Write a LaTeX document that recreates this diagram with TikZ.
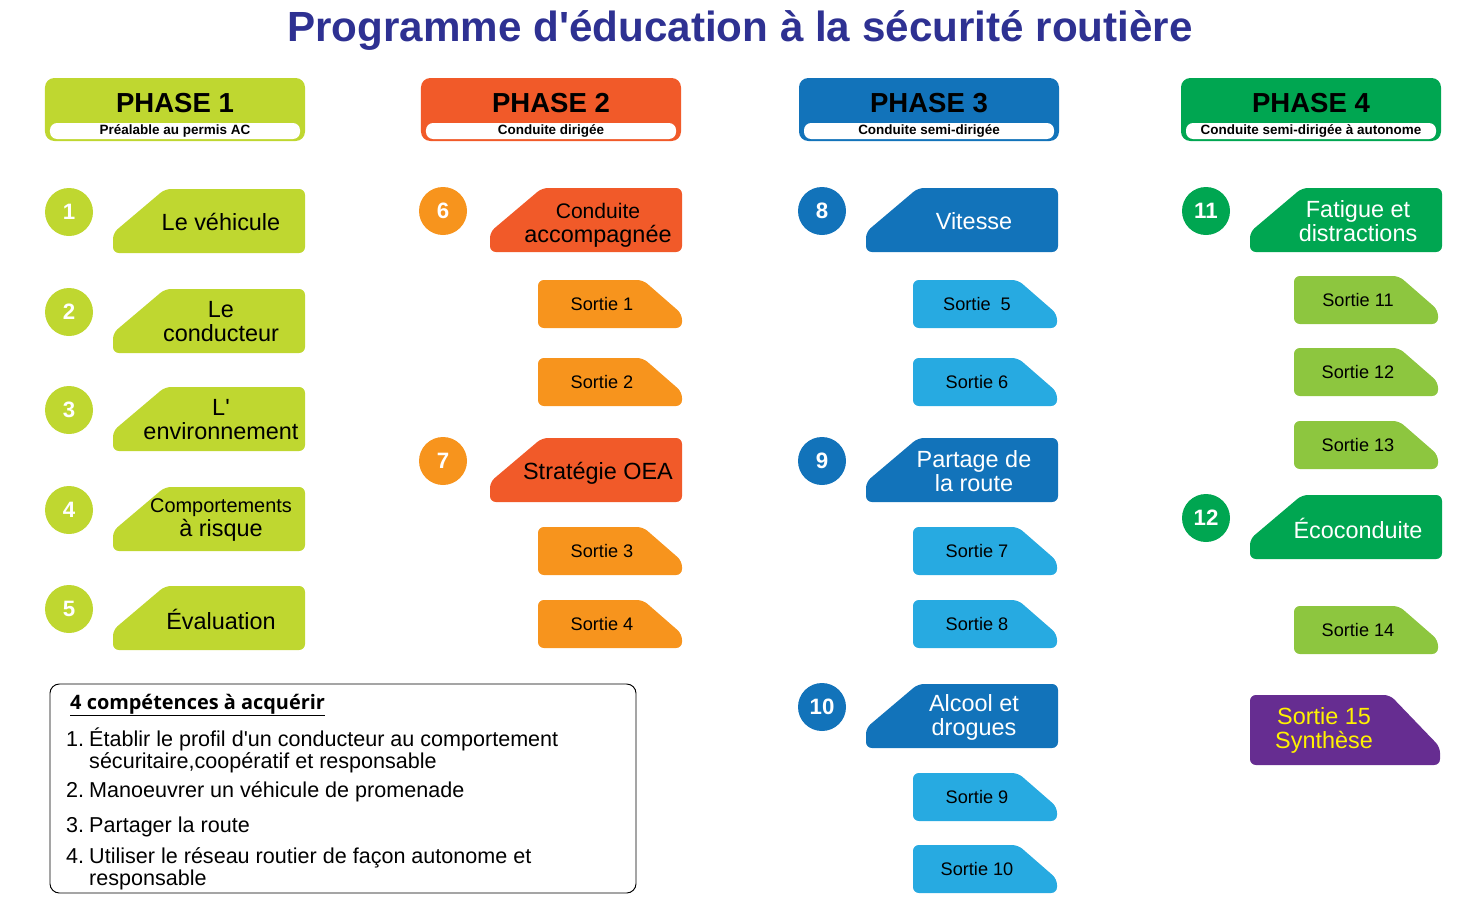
\documentclass[tikz,border=0pt]{standalone}
\usepackage{fontspec}
\setmainfont{Liberation Sans}
\newfontfamily\boxfont{Open Sans}
\usetikzlibrary{positioning}
\definecolor{ttlblue}{HTML}{2E3192}
\definecolor{limeG}{HTML}{BFD730}
\definecolor{orngR}{HTML}{F15A29}
\definecolor{orngL}{HTML}{F7941D}
\definecolor{blueD}{HTML}{1273BA}
\definecolor{blueL}{HTML}{27AAE1}
\definecolor{greenD}{HTML}{00A651}
\definecolor{greenL}{HTML}{8DC63F}
\definecolor{purp}{HTML}{662D91}
\definecolor{yell}{HTML}{FFF200}
\tikzset{
  every node/.style={inner sep=0pt},
  phbox/.style ={rounded corners=8pt, minimum width=7.8cm, minimum height=1.89cm},
  phttl/.style ={font=\fontsize{23.5}{25}\selectfont\bfseries},
  phsub/.style ={fill=white, rounded corners=6pt, minimum width=7.5cm, minimum height=0.48cm,
                 font=\fontsize{11.5}{13}\selectfont\bfseries},
  numc/.style  ={circle, minimum size=1.44cm, text=white, font=\fontsize{19}{21}\selectfont\bfseries},
  modtxt/.style={align=center, font=\fontsize{20}{20.5}\selectfont},
  srttxt/.style={font=\fontsize{15.5}{17}\selectfont},
  itm/.style   ={anchor=base west, font=\fontsize{18.4}{20}\selectfont},
}
% module tag: [node options], name, x, y, fill, text colour, text
\newcommand{\modtag}[7][]{%
  \fill[#5, rounded corners=5pt] (#3,#4+44) -- (#3+52,#4) -- (#3+192,#4) -- (#3+192,#4+64)
    -- (#3,#4+64) -- cycle;
  \node[modtxt, text=#6, #1] (#2) at (#3+108,#4+33) {#7};
}
% outing tag: name, x, y, fill, text
\newcommand{\sortie}[5]{%
  \fill[#4, rounded corners=5pt] (#2,#3) -- (#2+105,#3) -- (#2+144,#3+34) -- (#2+144,#3+48)
    -- (#2,#3+48) -- cycle;
  \node[srttxt] (#1) at (#2+64,#3+24) {#5};
}

\begin{document}
\begin{tikzpicture}[x=0.03cm, y=-0.03cm]
\useasboundingbox (0,0) rectangle (1480,917);

% ---------------- title -------------------------------------------------------
\node[text=ttlblue, font=\fontsize{36}{38}\selectfont\bfseries] (title) at (740,30)
  {Programme d\textquotesingle éducation à la sécurité routière};

% ---------------- phase headers -----------------------------------------------
\foreach \x/\col/\k/\sub in {175/limeG/1/{Préalable au permis AC},
    551/orngR/2/{Conduite dirigée}, 929/blueD/3/{Conduite semi-dirigée},
    1311/greenD/4/{Conduite semi-dirigée à autonome}}{
  \node[phbox, fill=\col] (ph\k) at (\x,109.5) {};
  \node[phttl] (pht\k) at (\x,103) {PHASE \k};
  \node[phsub] (phs\k) at (\x,131) {\sub};
}

% ---------------- phase 1 -----------------------------------------------------
\foreach \k/\yy/\txt in {1/189/{Le véhicule}, 2/289/{Le\\conducteur},
    3/387/{L\textquotesingle\\environnement},
    4/487/{\fontsize{17}{19}\selectfont Comportements\\à risque}, 5/586/{Évaluation}}{
  \node[numc, fill=limeG] (n\k) at (69,\yy+23) {\k};
  \modtag{m\k}{113}{\yy}{limeG}{black}{\txt}
}

% ---------------- phase 2 -----------------------------------------------------
\node[numc, fill=orngL] (n6) at (443,211) {6};
\modtag[yshift=-4pt]{m6}{490}{188}{orngR}{black}
  {\fontsize{18}{18.8}\selectfont Conduite\\accompagnée}
\node[numc, fill=orngL] (n7) at (443,461) {7};
\modtag[yshift=-2pt]{m7}{490}{438}{orngR}{black}{Stratégie OEA}
\foreach \k/\yy in {1/280, 2/358, 3/527, 4/600}{
  \sortie{s\k}{538}{\yy}{orngL}{Sortie \k}
}

% ---------------- phase 3 -----------------------------------------------------
\foreach \k/\yy/\txt in {8/188/{Vitesse}, 9/438/{Partage de\\la route},
    10/684/{Alcool et\\drogues}}{
  \node[numc, fill=blueD] (n\k) at (822,\yy+23) {\k};
  \modtag{m\k}{866}{\yy}{blueD}{white}{\txt}
}
\foreach \k/\yy/\txt in {5/280/{Sortie\ \ 5}, 6/358/{Sortie 6}, 7/527/{Sortie 7},
    8/600/{Sortie 8}, 9/773/{Sortie 9}, 10/845/{Sortie 10}}{
  \sortie{s\k}{913}{\yy}{blueL}{\txt}
}

% ---------------- phase 4 -----------------------------------------------------
\foreach \k/\yy/\txt in {11/188/{Fatigue et\\distractions}, 12/495/{Écoconduite}}{
  \node[numc, fill=greenD] (n\k) at (1206,\yy+23) {\k};
  \modtag{m\k}{1250}{\yy}{greenD}{white}{\txt}
}
\foreach \k/\yy in {11/276, 12/348, 13/421, 14/606}{
  \sortie{s\k}{1294}{\yy}{greenL}{Sortie \k}
}
\fill[purp, rounded corners=5pt] (1250,695) -- (1390,695) -- (1440,747) -- (1440,765)
  -- (1250,765) -- cycle;
\node[modtxt, text=yell] (s15) at (1324,730) {Sortie 15\\Synthèse};

% ---------------- competences box ---------------------------------------------
\node[draw, line width=0.8pt, rounded corners=8pt, minimum width=17.58cm,
  minimum height=6.27cm] (cbox) at (343,788.5) {};
\node[anchor=base west, font=\boxfont\fontsize{17}{19}\selectfont\bfseries] (cttl) at (70,709)
  {4 compétences à acquérir};
\draw[line width=0.8pt] ([yshift=-1.5pt]cttl.south west) -- ([yshift=-1.5pt]cttl.south east);
\foreach \k/\yy in {1/746, 2/797, 3/832, 4/863}{
  \node[itm] (cn\k) at (66,\yy) {\k.};
}
\foreach \yy/\txt [count=\k] in {746/{Établir le profil d\textquotesingle un conducteur au comportement},
    768/{sécuritaire,coopératif et responsable}, 797/{Manoeuvrer un véhicule de promenade},
    832/{Partager la route}, 863/{Utiliser le réseau routier de façon autonome et},
    885/{responsable}}{
  \node[itm] (ct\k) at (89,\yy) {\txt};
}

\end{tikzpicture}
\end{document}
